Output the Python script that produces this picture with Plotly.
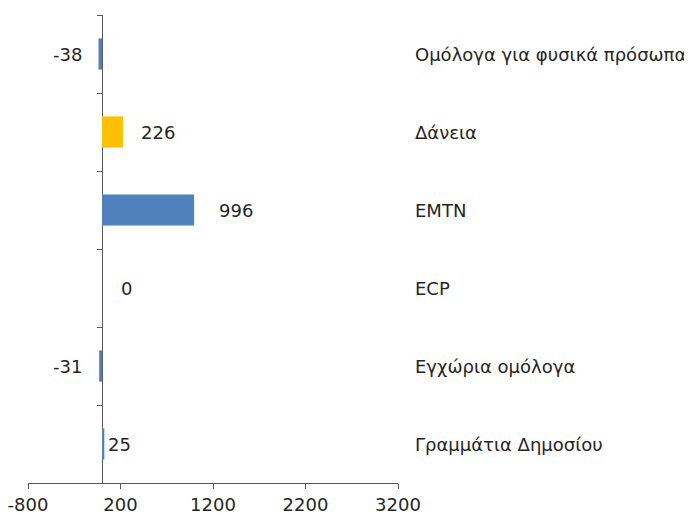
import plotly.graph_objects as go

categories = ["Ομόλογα για φυσικά πρόσωπα", "Δάνεια", "EMTN", "ECP",
              "Εγχώρια ομόλογα", "Γραμμάτια Δημοσίου"]
values = [-38, 226, 996, 0, -31, 25]
value_labels = ["-38", "226", "996", "0", "-31", "25"]
x_ticks = [-800, 200, 1200, 2200, 3200]
x_tick_labels = ["-800", "200", "1200", "2200", "3200"]

colors = ["#4F81BD", "#FFC000", "#4F81BD", "#4F81BD", "#4F81BD", "#4F81BD"]
label_shift = [-14, 16, 23, 17, -15, 2]
label_anchor = ["right", "left", "left", "left", "right", "left"]

FONT = "DejaVu Sans"
TXT = "#262626"
FS = 18
xmin, xmax = x_ticks[0], x_ticks[-1]

fig = go.Figure(go.Bar(
    x=values, y=categories, orientation="h",
    marker=dict(color=colors, line=dict(width=0)),
    width=0.4, hoverinfo="skip",
))

for c, v, t, s, a in zip(categories, values, value_labels, label_shift, label_anchor):
    fig.add_annotation(x=v, y=c, text=t, showarrow=False, xanchor=a, xshift=s,
                       font=dict(family=FONT, size=FS, color=TXT))
    fig.add_annotation(x=1, xref="paper", y=c, text=c, showarrow=False,
                       xanchor="left", xshift=15,
                       font=dict(family=FONT, size=FS, color=TXT))

fig.update_layout(
    width=684, height=507,
    margin=dict(l=20, r=294, t=7, b=32),
    plot_bgcolor="white", paper_bgcolor="white",
    showlegend=False,
    font=dict(family=FONT, size=FS, color=TXT),
    xaxis=dict(range=[xmin, xmax], tickvals=x_ticks, ticktext=x_tick_labels,
               showgrid=False, automargin=False, ticklabeloverflow="allow",
               zeroline=False, showline=True, linecolor="#595959", linewidth=1,
               ticks="outside", ticklen=5, tickcolor="#595959",
               tickfont=dict(family=FONT, size=FS, color=TXT)),
    yaxis=dict(autorange="reversed", showgrid=False, zeroline=False,
               showline=True, linecolor="#595959", linewidth=1,
               ticks="outside", ticklen=5, tickcolor="#595959",
               tickson="boundaries", showticklabels=False, automargin=False,
               layer="below traces",
               anchor="free", position=(0 - xmin) / (xmax - xmin)),
)

fig.write_html("out.html")
